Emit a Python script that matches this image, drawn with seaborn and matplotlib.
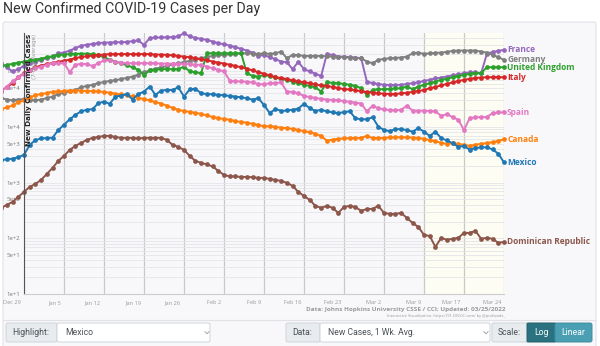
import numpy as np
import pandas as pd
import matplotlib
matplotlib.use("Agg")
import matplotlib.pyplot as plt
import seaborn as sns
from matplotlib.patches import FancyBboxPatch
from matplotlib.lines import Line2D
from matplotlib.ticker import FixedLocator, LogLocator, NullFormatter
from matplotlib.transforms import Bbox, IdentityTransform, ScaledTranslation

# ---------------- data (7-day average new cases) ----------------
day = list(range(-4, 85))  # days after Dec 29
week_ticks = list(range(0, 85, 7))
week_labels = ["Dec 29", "Jan 5", "Jan 12", "Jan 19", "Jan 26", "Feb 2", "Feb 9",
               "Feb 16", "Feb 23", "Mar 2", "Mar 9", "Mar 17", "Mar 24"]
ytick_values = [10, 50, 100, 500, 1000, 5000, 10000, 50000, 100000]
ytick_labels = ["1e+1", "5e+1", "1e+2", "5e+2", "1e+3", "5e+3", "1e+4", "5e+4", "1e+5"]

countries = ["France", "Germany", "United Kingdom", "Italy", "Spain",
             "Canada", "Dominican Republic", "Mexico"]
colors = ["#9467bd", "#7f7f7f", "#2ca02c", "#d62728", "#e377c2",
          "#ff7f0e", "#8c564b", "#1f77b4"]

# values in thousands
france_k = [139, 118, 99, 108, 126, 139, 149, 160, 171, 183,
            210, 216, 235, 259, 288, 297, 310, 318, 327, 327,
            331, 331, 336, 346, 356, 297, 392, 403, 403, 408,
            408, 420, 482, 420, 397, 381, 366, 341, 318, 305,
            288, 270, 252, 235, 216, 188, 196, 178, 164, 149,
            145, 109, 147, 109, 99, 90, 82, 204, 196, 183,
            183, 178, 176, 171, 65, 61, 59, 57, 56.6, 56.6,
            57, 59, 61, 63, 67, 70, 74, 77, 80, 84,
            88, 92, 95, 95, 92, 204, 222, 231, 242]
germany_k = [33, 31, 30, 31, 31.5, 31, 30, 31, 33, 35,
             39, 41, 43.5, 46, 51.5, 54.5, 57, 61, 64, 67,
             69, 72, 76, 80, 87, 96, 103, 111, 117, 124,
             132, 139, 145, 154, 162, 171, 181, 188, 194, 196,
             201, 204, 210, 210, 207, 204, 210, 204, 210, 225,
             171, 196, 194, 188, 188, 188, 188, 185, 183, 181,
             178, 176, 173, 171, 149, 139, 160, 166, 171, 173,
             176, 183, 210, 216, 204, 210, 213, 216, 222, 231,
             235, 235, 235, 235, 225, 216, 196, 178, 160]
uk_k = [124, 129, 136, 143, 149, 156, 162, 168, 178, 185,
        193, 199, 203, 206, 206, 206, 203, 193, 178, 160,
        149, 139, 128, 117, 106, 86, 103, 106, 109, 109,
        109, 109, 121, 99, 96, 92, 210, 210, 210, 210,
        210, 210, 210, 92, 82, 80, 86, 82, 78, 71,
        70, 65, 61, 57, 54.5, 51.5, 43, 63, 62, 61,
        59, 57, 54.5, 49.5, 37.5, 46, 47.5, 47.5, 48, 49,
        49.5, 53, 47.5, 53, 57, 61, 65, 70, 73, 78,
        82, 86, 90, 92, 92, 118, 118, 118, 118]
italy_k = [45, 51.5, 61, 78, 92, 106, 118, 126, 134, 141,
           147, 154, 162, 171, 181, 185, 190, 196, 199, 203,
           203, 203, 203, 203, 203, 203, 203, 199, 199, 196,
           193, 188, 183, 178, 171, 164, 158, 149, 143, 137,
           131, 124, 118, 111, 103, 96, 90, 84, 78, 75.5,
           72, 68.5, 65.5, 63, 61, 58, 55.5, 54.5, 52, 50,
           47.5, 47, 45.5, 43.5, 42.5, 41, 40, 39.5, 39, 39,
           40, 41, 42.5, 44, 46, 49.5, 52, 55.5, 59, 63,
           66.5, 70, 73, 75.5, 77, 78, 78, 78, 78]
spain_k = [43, 53, 65.5, 78, 90, 103, 113, 121, 130, 139,
           139, 139, 96, 130, 136, 134, 124, 139, 156, 156,
           147, 143, 139, 139, 139, 139, 139, 139, 137, 137,
           136, 136, 136, 134, 131, 130, 121, 113, 106, 99,
           68, 65.5, 65.5, 64.5, 63, 59, 58, 61, 61, 63,
           43, 42.5, 40, 36, 34.5, 33, 32, 31, 30.5, 30,
           29, 28.2, 27.3, 26.3, 19, 24, 21.5, 20.8, 20, 19.8,
           20.3, 24, 19.6, 19.6, 19.6, 19.3, 19, 15.8, 16.9, 15,
           13.4, 8.8, 14.4, 14.8, 15, 15, 17.7, 18.2, 18.2]
canada_k = [20.9, 22.3, 24.3, 27.5, 29.8, 34.1, 37, 39, 40.5, 43,
            43.5, 44, 45, 45, 45, 44, 44, 43.5, 42.5, 41.2,
            39.5, 38.4, 37, 35.6, 33.2, 31.6, 29.8, 27.8, 26.3, 24,
            22, 20.3, 19.2, 18.6, 17.9, 17.1, 16.1, 15, 14.4, 13.9,
            13.4, 12.7, 12.3, 11.9, 11.4, 10.9, 10.2, 10.3, 10, 9.7,
            9.5, 9.2, 8.8, 8.4, 8.0, 7.5, 6.9, 5.65, 5.9, 6.1,
            6.2, 6.3, 6.3, 6.35, 6.9, 6.3, 6.3, 6.35, 6.5, 6.5,
            6.5, 6.5, 6.45, 6.3, 6.1, 5.8, 5.5, 5.2, 4.95, 5.1,
            4.95, 4.75, 4.55, 4.8, 4.95, 5.15, 5.3, 5.6, 6.0]
mexico_k = [2.55, 2.6, 2.7, 2.85, 3.15, 4.75, 5.8, 6.2, 6.3, 6.4,
            8.8, 10.9, 13.7, 16.5, 19, 20.3, 20.9, 26.6, 28.5, 26,
            35, 36.5, 39, 31, 39, 43, 53, 37.5, 45, 46,
            46, 51.5, 35, 47.3, 48.6, 40, 39, 38.5, 37.5, 37,
            35.9, 35, 34, 32.6, 31, 32.6, 24.8, 17.7, 20.9, 19.4,
            19.7, 20.3, 21.3, 26, 21.7, 19.3, 20.3, 19, 18.2, 17.7,
            18.4, 19, 14.3, 13.7, 13.7, 14.9, 10.1, 8.8, 8.4, 9.1,
            9.1, 8.8, 8.2, 9.5, 8.2, 6.9, 8.2, 6.3, 5.7, 5.1,
            4.4, 4.55, 3.9, 4.15, 4.3, 4.3, 3.95, 3.3, 2.3]
dominican_republic = [352, 398, 450, 553, 681, 838, 948, 1118, 1430, 1836,
                      2453, 3013, 3864, 4560, 5163, 5846, 6353, 6610, 6890, 6890,
                      6610, 6353, 6353, 6353, 6220, 6353, 6353, 6353, 6353, 5846,
                      4750, 4375, 3864, 3013, 2453, 2258, 2123, 1953, 1622, 1374,
                      1292, 1290, 1265, 1265, 1250, 1214, 1214, 1165, 1118, 1073,
                      988, 873, 681, 577, 489, 382, 352, 382, 352, 286,
                      366, 382, 366, 310, 337, 337, 382, 286, 274, 274,
                      286, 232, 189, 160, 115, 110, 70, 102, 94, 98,
                      102, 125, 125, 136, 98, 102, 98, 83, 86]

series = {
    "France": np.array(france_k) * 1000,
    "Germany": np.array(germany_k) * 1000,
    "United Kingdom": np.array(uk_k) * 1000,
    "Italy": np.array(italy_k) * 1000,
    "Spain": np.array(spain_k) * 1000,
    "Canada": np.array(canada_k) * 1000,
    "Dominican Republic": np.array(dominican_republic, dtype=float),
    "Mexico": np.array(mexico_k) * 1000,
}
df = pd.concat([pd.DataFrame({"day": day, "cases": v, "country": k})
                for k, v in series.items()], ignore_index=True)
palette = dict(zip(countries, colors))

# ---------------- figure ----------------
sns.set_theme(style="white")
plt.rcParams["font.family"] = ["Roboto", "DejaVu Sans"]
LBL_FONT = ["Open Sans", "DejaVu Sans"]

W, H = 600, 346
fig = plt.figure(figsize=(W / 100, H / 100), dpi=100)
fig.patch.set_facecolor("white")
disp = IdentityTransform()


def box(x0, y0, x1, y1, fc, ec, r=0.0, lw=0.7, z=-1):
    p = FancyBboxPatch((x0, H - y1), x1 - x0, y1 - y0,
                       boxstyle=f"round,pad=0,rounding_size={r}",
                       transform=disp, fc=fc, ec=ec, lw=lw, zorder=z)
    fig.add_artist(p)


def fxy(x, y):
    return x / W, 1 - y / H


# panel
box(3, 22, 596, 352, "#f8f8fa", "#dfdfe4", r=2, z=-2)
fig.add_artist(Line2D([3, 596], [H - 320, H - 320], transform=disp,
                      color="#e2e2e6", lw=0.8, zorder=-1))

# title
fig.text(*fxy(3, 13.5), "New Confirmed COVID-19 Cases per Day", fontsize=10.3,
         color="#333333", va="baseline", ha="left")

ax = fig.add_axes([24 / W, 1 - 294 / H, 480 / W, (294 - 33) / H])
ax.set_facecolor("none")

sns.lineplot(data=df, x="day", y="cases", hue="country", hue_order=countries,
             palette=palette, marker="o", markersize=3.4, markeredgewidth=0,
             linewidth=1.4, legend=False, ax=ax, estimator=None, sort=False)

ax.set_yscale("log")
ax.set_xlim(0, 84)
ax.set_ylim(10, 4.85e5)

clipbox = Bbox.from_extents(3, H - 296, 512, H - 31)
for ln in ax.lines:
    ln.set_clip_path(None)
    ln.set_clip_box(clipbox)
    ln.set_clip_on(True)

ax.axvspan(70, 84, color="#fdfdf3", zorder=0, lw=0)

ax.yaxis.set_major_locator(FixedLocator(ytick_values))
ax.set_yticks(ytick_values, labels=ytick_labels)
ax.yaxis.set_minor_locator(LogLocator(base=10, subs=np.arange(2, 10), numticks=20))
ax.yaxis.set_minor_formatter(NullFormatter())
ax.set_xticks(week_ticks, labels=week_labels)
ax.set_axisbelow(True)
ax.grid(axis="y", which="both", color="#e4e4ea", lw=0.6)
ax.grid(axis="x", which="major", color="#c9c9c9", lw=0.9)
ax.tick_params(axis="y", which="major", length=2, width=0.6, color="#888888",
               labelsize=4.3, labelcolor="#777777", pad=1)
ax.tick_params(axis="y", which="minor", length=0)
ax.tick_params(axis="x", which="major", length=3, width=0.6, color="#cccccc",
               labelsize=4.1, labelcolor="#999999", pad=1.5)
for lbl in ax.get_xticklabels():
    lbl.set_ha("right")
    lbl.set_family(LBL_FONT)
    lbl.set_transform(lbl.get_transform() + ScaledTranslation(-0.03, 0, fig.dpi_scale_trans))
for lbl in ax.get_yticklabels():
    lbl.set_family(LBL_FONT)
ax.set_xlabel("")
ax.set_ylabel("")
for s in ["top", "right"]:
    ax.spines[s].set_visible(False)
ax.spines["left"].set_color("#555555")
ax.spines["left"].set_linewidth(0.8)
ax.spines["bottom"].set_color("#cccccc")
ax.spines["bottom"].set_linewidth(0.8)

# axis title inside plot
ax.text(5 / 480, 0.997, "New Daily Confirmed Cases", transform=ax.transAxes,
        rotation=90, va="top", ha="center", fontsize=5.2, fontweight="bold",
        color="#222222", zorder=10, family=["DejaVu Sans"])
ax.text(10.5 / 480, 0.997, "(7-day Average)", transform=ax.transAxes,
        rotation=90, va="top", ha="center", fontsize=4.1, color="#999999",
        zorder=10, family=["DejaVu Sans"])

# end labels
for name, col in zip(countries, colors):
    ax.annotate(name, xy=(day[-1], series[name][-1]), xytext=(3, 0),
                textcoords="offset pixels", va="center", ha="left",
                fontsize=6.0, fontweight="bold", color=col, family=LBL_FONT,
                annotation_clip=False)

# footer
fig.text(*fxy(505, 310), "Data: Johns Hopkins University CSSE / CCI; Updated: 03/25/2022",
         ha="right", va="center", fontsize=4.6, color="#9a9a9a", fontweight="bold",
         family=LBL_FONT)
fig.text(*fxy(505, 315.5), "Interactive Visualization: https://91-DIVOC.com/ by @profwade_",
         ha="right", va="center", fontsize=2.9, color="#9a9a9a", family=LBL_FONT)

# controls row
CTRL_EC = "#ced4da"
box(6, 323, 57, 342, "#e9ecef", CTRL_EC, r=2, z=1)
box(57, 323, 210, 342, "white", CTRL_EC, r=2, z=1)
fig.text(*fxy(12, 332.5), "Highlight:", fontsize=6.2, color="#495057", va="center")
fig.text(*fxy(65, 332.5), "Mexico", fontsize=6.2, color="#495057", va="center")

box(286, 323, 320, 342, "#e9ecef", CTRL_EC, r=2, z=1)
box(320, 323, 490, 342, "white", CTRL_EC, r=2, z=1)
fig.text(*fxy(292, 332.5), "Data:", fontsize=6.2, color="#495057", va="center")
fig.text(*fxy(328, 332.5), "New Cases, 1 Wk. Avg.", fontsize=6.2, color="#495057", va="center")

box(492, 323, 528, 342, "#e9ecef", CTRL_EC, r=2, z=1)
box(527, 323, 556, 342, "#2a7280", "#255f6b", r=1, z=1)
box(555, 323, 592, 342, "#4a9fb3", "#3f8ea1", r=2, z=1)
fig.text(*fxy(498, 332.5), "Scale:", fontsize=6.2, color="#495057", va="center")
fig.text(*fxy(541.5, 332.5), "Log", fontsize=6.2, color="white", va="center", ha="center")
fig.text(*fxy(573.5, 332.5), "Linear", fontsize=6.2, color="white", va="center", ha="center")

for cx in (207, 486):
    fig.add_artist(Line2D([cx - 2.2, cx, cx + 2.2], [H - 331.5, H - 333.8, H - 331.5],
                          transform=disp, color="#9a9a9a", lw=0.6, zorder=2))

fig.savefig("out.png", dpi=100, facecolor=fig.get_facecolor())
